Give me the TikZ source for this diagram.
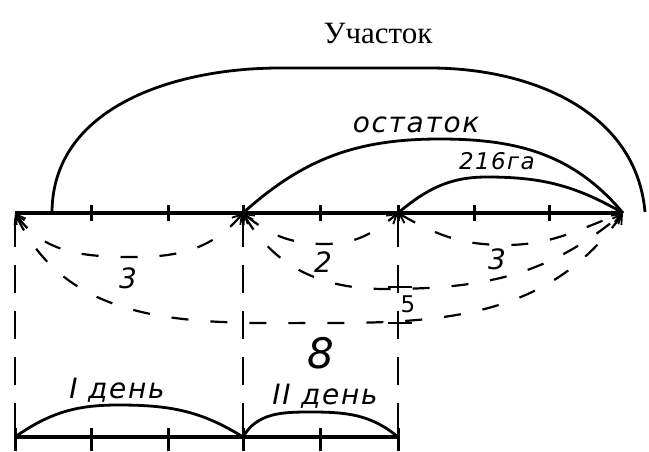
\documentclass[tikz,border=0pt]{standalone}
\usepackage{fontspec}
\setmainfont{Liberation Serif}
\newfontfamily\hand[LetterSpace=6]{DejaVu Sans}
\usetikzlibrary{arrows.meta}
\begin{document}
\begin{tikzpicture}[x=1pt,y=-1pt,
  thickline/.style={line width=3.6pt},
  solidarc/.style={line width=2.8pt},
  barb/.tip={Straight Barb[length=9pt,width=11pt,line width=1.8pt]},
  dasharc/.style={line width=2.2pt, dash pattern=on 17pt off 22pt, barb-barb},
  vdash/.style={line width=2.2pt, dash pattern=on 28pt off 18pt},
  tickmark/.style={line width=3pt},
  crossmark/.style={line width=2pt},
  lbl/.style={font=\hand\itshape\fontsize{28}{28}\selectfont, inner sep=0pt},
  title/.style={font=\fontsize{31}{31}\selectfont, inner sep=0pt}]
\useasboundingbox (0,0) rectangle (649,451);
\fill[white] (0,0) rectangle (649,451);
% points on the main line and on the lower line
\foreach \i/\x in {0/15,1/91,2/168,3/243,4/320,5/398,6/474,7/549,8/623}
  \coordinate (p\i) at (\x,213);
\foreach \i/\x in {0/15,1/91,2/168,3/243,4/320,5/398}
  \coordinate (q\i) at (\x,437);
\coordinate (bs) at (52,213);
\coordinate (be) at (645,212);
% title
\node[title] (t) at (378,33) {Участок};
% main line and ticks
\draw[thickline] (p0) -- (p8);
\foreach \i in {1,2,3,4,5,6,7}
  \draw[tickmark] (p\i) ++(0,-8) -- ++(0,16);
% big arc
\draw[solidarc] (bs) to[out=90,in=180] (280,68) -- (430,68) to[out=0,in=95] (be);
% remainder arc
\draw[solidarc] (p3) to[out=42,in=180] (440,139) to[out=0,in=130] (p8);
\node[lbl] (ost) at (416,125) {остаток};
% 216 ga arc
\draw[solidarc] (p5) to[out=40,in=180] (487,177) to[out=0,in=150] (p8);
\node[lbl, font=\hand\itshape\fontsize{23}{23}\selectfont] (ga) at (497,161) {216га};
% dashed arcs
\draw[dasharc] (p0) to[out=-55,in=180] (135,257) to[out=0,in=-130] (p3);
\draw[dasharc] (p0) to[out=-65,in=180] (330,323) to[out=0,in=-125] (p8);
\draw[dasharc] (p3) to[out=-40,in=180] (325,244) to[out=0,in=-140] (p5);
\draw[dasharc] (p5) to[out=-30,in=180] (505,245) to[out=0,in=-160] (p8);
\draw[dasharc] (p3) to[out=-60,in=180] (385,289) to[out=0,in=-140] (p8);
\node[lbl] (n3a) at (128,278) {3};
\node[lbl] (n2) at (323,262) {2};
\node[lbl] (n3b) at (497,259) {3};
\node[lbl, font=\hand\fontsize{23}{23}\selectfont] (n5) at (408,304) {5};
\node[lbl, font=\hand\itshape\fontsize{42}{42}\selectfont] (n8) at (321,353) {8};
\coordinate (c1) at (398,287);
\coordinate (c2) at (398,323);
\draw[crossmark] (c1) ++(-10,0) -- ++(24,0);
\draw[crossmark] (c2) ++(-10,0) -- ++(24,0);
% vertical dashed lines
\foreach \i in {0,3,5}
  \draw[vdash] (p\i) ++(0,6) -- (q\i);
% lower line
\draw[thickline] (q0) -- (q5);
\foreach \i in {0,1,2,3,4,5}
  \draw[tickmark] (q\i) ++(0,-9) -- ++(0,23);
% lower arcs
\draw[solidarc] (q0) to[out=35,in=180] (118,405) to[out=0,in=148] (q3);
\draw[solidarc] (q3) to[out=60,in=180] (310,412) to[out=0,in=140] (q5);
\node[lbl] (d1) at (117,390) {I день};
\node[lbl] (d2) at (325,396) {II день};
\end{tikzpicture}
\end{document}
